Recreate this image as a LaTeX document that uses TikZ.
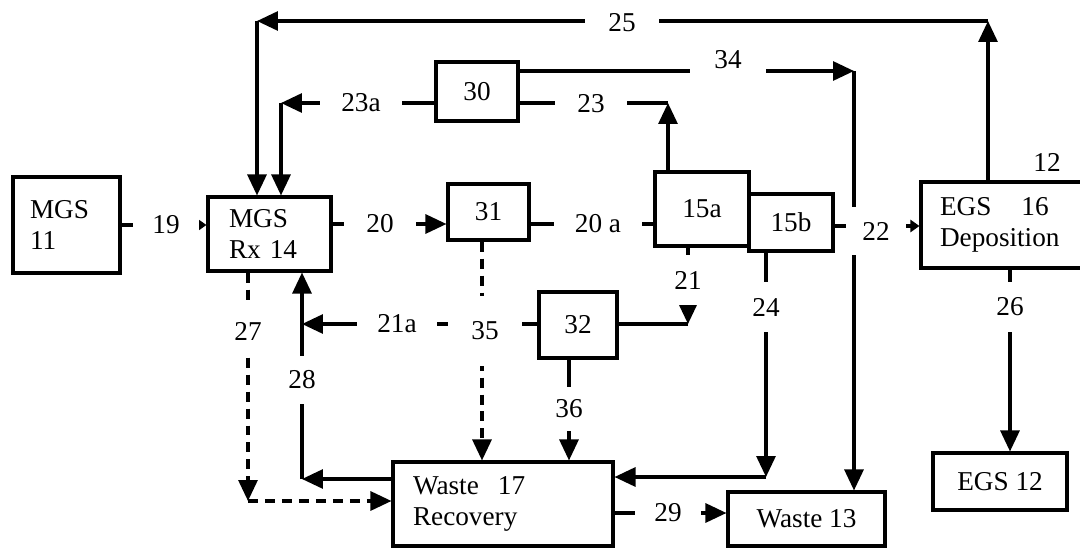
\documentclass[tikz,border=0pt]{standalone}
\usepackage{fontspec}
\setmainfont{Liberation Serif}
\usetikzlibrary{arrows.meta,positioning,calc}

\begin{document}
\begin{tikzpicture}[
    x=0.02cm, y=-0.02cm,
    font=\fontsize{15.5}{17.5}\selectfont,
    line width=1.75pt,
    box/.style = {draw, inner sep=0pt, align=left},
    num/.style = {fill=white, inner sep=1pt},
    arr/.style = {-{Triangle[length=0.42cm,width=0.38cm]}},
    tip/.style = {-{Triangle[length=0.18cm,width=0.24cm]}},
    dsh/.style = {dash pattern=on 0.2cm off 0.14cm},
]
\useasboundingbox (0,0) rectangle (1080,548);
\clip (0,0) rectangle (1080,548);

\node[box, minimum width=2.14cm, minimum height=1.92cm, text width=1.46cm] (mgs)  at (66.5,225)  {MGS\\11};
\node[box, minimum width=2.46cm, minimum height=1.48cm, text width=1.62cm] (rx)   at (269.5,234) {MGS\\Rx 14};
\node[box, minimum width=1.64cm, minimum height=1.18cm] (b30)  at (477,91.5)  {30};
\node[box, minimum width=1.62cm, minimum height=1.12cm] (b31)  at (488.5,212) {31};
\node[box, minimum width=1.56cm, minimum height=1.32cm] (b32)  at (578,325)   {32};
\node[box, minimum width=1.88cm, minimum height=1.48cm] (b15a) at (702,209)   {15a};
\node[box, minimum width=1.68cm, minimum height=1.14cm] (b15b) at (791,222.5) {15b};
\node[box, minimum width=3.98cm, minimum height=1.72cm, text width=3.22cm] (egs) at (1020.5,225) {EGS\hspace{1.1em}16\\Deposition};
\node[box, minimum width=2.68cm, minimum height=1.14cm] (egs12) at (1000,481.5) {EGS 12};
\node[box, minimum width=4.4cm, minimum height=1.68cm, text width=3.6cm] (w17) at (503,504) {Waste\hspace{0.7em}17\\Recovery};
\node[box, minimum width=3.14cm, minimum height=1.08cm] (w13)  at (806.5,519) {Waste 13};
\node (l12) at (1047,162) {12};

\coordinate (k19)  at (166,225);
\coordinate (k20)  at (380,224);
\coordinate (k20a) at (598,224);
\coordinate (k22)  at (876,226);
\coordinate (k25a) at (988,21);
\coordinate (k25b) at (257,21);
\coordinate (k23a) at (281,103);
\coordinate (k23)  at (668,103);
\coordinate (k34)  at (854,71);
\coordinate (k21)  at (688,324);
\coordinate (k21a) at (302,324);
\coordinate (k28)  at (302,479);
\coordinate (k27)  at (248,501);
\coordinate (k35)  at (482,331);
\coordinate (k36)  at (569,409);
\coordinate (k24)  at (766,477);
\coordinate (k29)  at (668,513);
\coordinate (k26)  at (1010,307);

\draw[tip] (mgs.east |- k19) -- (rx.west |- k19);
\draw[arr] (rx.east |- k20) -- (b31.west |- k20);
\draw      (b31.east |- k20a) -- (b15a.west |- k20a);
\draw[tip] (b15b.east |- k22) -- (egs.west |- k22);
\draw[arr] (egs.north -| k25a) -- (k25a);
\draw[arr] (k25a) -- (k25b);
\draw[arr] (k25b) -- (rx.north -| k25b);
\draw[arr] (b30.west |- k23a) -- (k23a);
\draw[arr] (k23a) -- (rx.north -| k23a);
\draw[arr] (b15a.north -| k23) -- (k23);
\draw      (k23) -- (b30.east |- k23);
\draw[arr] (b30.east |- k34) -- (k34);
\draw[arr] (k34) -- (w13.north -| k34);
\draw[arr] (b15a.south -| k21) -- (k21);
\draw      (k21) -- (b32.east |- k21);
\draw[arr] (b32.west |- k21a) -- (k21a);
\draw[arr] (w17.west |- k28) -- (k28);
\draw[arr] (k28) -- (rx.south -| k28);
\draw[arr,dsh] (rx.south -| k27) -- (k27);
\draw[arr,dsh] (k27) -- (w17.west |- k27);
\draw[arr,dsh] (b31.south -| k35) -- (w17.north -| k35);
\draw[arr] (b32.south -| k36) -- (w17.north -| k36);
\draw[arr] (b15b.south -| k24) -- (k24);
\draw[arr] (k24) -- (w17.east |- k24);
\draw[arr] (w17.east |- k29) -- (w13.west |- k29);
\draw[arr] (egs.south -| k26) -- (egs12.north -| k26);

\node[num, minimum width=1.34cm] (l19)  at (k19) {19};
\node[num, minimum width=1.46cm] (l20)  at (k20) {20};
\node[num, minimum width=1.76cm] (l20a) at (k20a) {20 a};
\node[num, minimum width=1.22cm, minimum height=0.96cm] (l22) at (876,231) {22};
\node[num, minimum width=1.48cm] (l25)  at (622,23) {25};
\node[num, minimum width=1.66cm] (l23a) at (361,103) {23a};
\node[num, minimum width=1.46cm] (l23)  at (591,104) {23};
\node[num, minimum width=1.54cm, minimum height=0.6cm] (l34) at (728,60) {34};
\node[num, minimum height=1.0cm] (l21)  at (688,280) {21};
\node[num, minimum width=1.6cm]  (l21a) at (397,324) {21a};
\node[num, minimum width=1.48cm, minimum height=1.4cm] (l35) at (485,331) {35};
\node[num, minimum height=1.0cm] (l27)  at (248,331) {27};
\node[num, minimum height=0.96cm] (l28) at (302,380) {28};
\node[num, minimum height=0.9cm] (l36)  at (k36) {36};
\node[num, minimum height=1.0cm] (l24)  at (766,307) {24};
\node[num, minimum height=1.02cm] (l26) at (k26) {26};
\node[num, minimum width=1.34cm] (l29)  at (k29) {29};
\end{tikzpicture}
\end{document}
